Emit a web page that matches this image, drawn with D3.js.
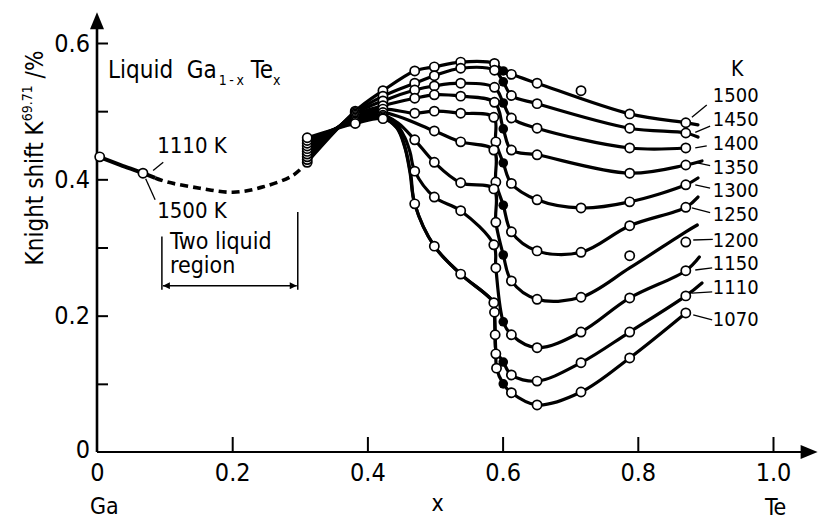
<!DOCTYPE html>
<html>
<head>
<meta charset="utf-8">
<script src="https://cdn.jsdelivr.net/npm/d3@7"></script>
<style>
  body { margin: 0; background: #fff; }
  svg text { font-family: "DejaVu Sans Condensed", "DejaVu Sans", sans-serif; font-stretch: condensed; fill: #000; }
</style>
</head>
<body>
<svg id="chart" width="818" height="521"></svg>
<script>
// isotherms, top to bottom on the Te-rich side
const temps = [1500, 1450, 1400, 1350, 1300, 1250, 1200, 1150, 1110, 1070];

// open circles lying on each isotherm, [x, K %]
const pts1500 = [[0.311,0.425],[0.382,0.500],[0.423,0.530],[0.470,0.559],[0.499,0.565],[0.538,0.572],[0.588,0.570],[0.613,0.554],[0.651,0.541],[0.788,0.496],[0.871,0.483]];
const pts1450 = [[0.311,0.429],[0.382,0.498],[0.423,0.522],[0.470,0.541],[0.499,0.552],[0.538,0.563],[0.588,0.560],[0.613,0.523],[0.651,0.511],[0.788,0.475],[0.871,0.468]];
const pts1400 = [[0.311,0.433],[0.382,0.496],[0.423,0.515],[0.470,0.531],[0.499,0.537],[0.538,0.541],[0.588,0.535],[0.613,0.490],[0.651,0.475],[0.788,0.446],[0.871,0.446]];
const pts1350 = [[0.311,0.437],[0.382,0.494],[0.423,0.508],[0.470,0.519],[0.499,0.524],[0.538,0.522],[0.588,0.513],[0.613,0.443],[0.651,0.436],[0.788,0.409],[0.871,0.421]];
const pts1300 = [[0.311,0.441],[0.382,0.492],[0.423,0.503],[0.470,0.497],[0.499,0.500],[0.538,0.497],[0.587,0.491],[0.590,0.455],[0.613,0.394],[0.651,0.370],[0.716,0.358],[0.788,0.367],[0.871,0.392]];
const pts1250 = [[0.311,0.445],[0.382,0.490],[0.423,0.498],[0.499,0.471],[0.538,0.455],[0.587,0.443],[0.590,0.396],[0.613,0.323],[0.651,0.295],[0.716,0.293],[0.788,0.332],[0.871,0.359]];
const pts1200 = [[0.311,0.449],[0.382,0.488],[0.423,0.494],[0.470,0.458],[0.499,0.425],[0.538,0.395],[0.587,0.386],[0.590,0.337],[0.613,0.251],[0.651,0.224],[0.716,0.227]];
const pts1150 = [[0.311,0.453],[0.382,0.486],[0.423,0.492],[0.470,0.412],[0.499,0.374],[0.538,0.354],[0.587,0.304],[0.590,0.270],[0.613,0.172],[0.651,0.153],[0.716,0.176],[0.788,0.226],[0.871,0.266]];
const pts1110 = [[0.311,0.457],[0.382,0.484],[0.423,0.490],[0.613,0.113],[0.651,0.104],[0.716,0.131],[0.788,0.176],[0.871,0.229]];
const pts1070 = [[0.311,0.461],[0.382,0.482],[0.423,0.489],[0.470,0.364],[0.499,0.302],[0.538,0.261],[0.587,0.219],[0.588,0.205],[0.589,0.172],[0.590,0.144],[0.591,0.123],[0.613,0.087],[0.651,0.069],[0.716,0.088],[0.788,0.138],[0.871,0.204]];

// extra points the drawn curve passes through (no marker)
const bend1500 = [];
const bend1450 = [];
const bend1400 = [];
const bend1350 = [];
const bend1300 = [];
const bend1250 = [];
const bend1200 = [[0.445,0.483],[0.788,0.270],[0.871,0.323]];
const bend1150 = [[0.440,0.485],[0.455,0.462],[0.463,0.440]];
const bend1110 = [[0.445,0.474],[0.456,0.446],[0.464,0.408],[0.470,0.364],[0.499,0.302],[0.538,0.261],[0.587,0.219],[0.588,0.205],[0.589,0.172],[0.590,0.150]];
const bend1070 = [[0.443,0.476],[0.455,0.448],[0.463,0.410]];

// filled dots near x = 0.6, one per isotherm
const filledX = 0.601;
const filledK = [0.559, 0.543, 0.512, 0.474, 0.424, 0.362, 0.289, 0.191, 0.132, 0.100];

// where each drawn curve stops past the last circle
const tails = [[0.889,0.480],[0.889,0.462],null,[0.895,0.427],[0.889,0.402],[0.889,0.374],[0.888,0.333],[0.891,0.286],[0.895,0.248],null];

// circles that sit off their curve
const offCurve = [[0.716,0.530],[0.788,0.288],[0.871,0.308]];

// Ga-rich side
const gaPts = [[0.004,0.433],[0.068,0.409]];
const gaSolid = [[0.000,0.434],[0.035,0.421],[0.068,0.409],[0.086,0.402]];
const gaDashed = [[0.086,0.402],[0.104,0.396],[0.152,0.387],[0.201,0.381],[0.246,0.389],[0.290,0.406],[0.311,0.425]];

// temperature labels at the right
const labelK = [0.524, 0.489, 0.454, 0.419, 0.384, 0.349, 0.312, 0.277, 0.243, 0.196];
const leaderFrom = [[0.880,0.491],[0.885,0.469],[0.885,0.446],[0.888,0.424],[0.885,0.392],[0.880,0.358],[0.882,0.311],[0.885,0.267],[0.880,0.233],[0.882,0.201]];
const leaderTo = [[0.902,0.509],[0.907,0.478],[0.902,0.449],[0.907,0.420],[0.907,0.387],[0.907,0.351],[0.911,0.312],[0.910,0.270],[0.910,0.235],[0.910,0.194]];

const xTicks = [0, 0.2, 0.4, 0.6, 0.8, 1.0];
const xTickLabels = ['0', '0.2', '0.4', '0.6', '0.8', '1.0'];
const yTicks = [0, 0.1, 0.2, 0.3, 0.4, 0.5, 0.6];
const yTickLabels = ['0', '', '0.2', '', '0.4', '', '0.6'];

const ptsBy = [pts1500, pts1450, pts1400, pts1350, pts1300, pts1250, pts1200, pts1150, pts1110, pts1070];
const bendBy = [bend1500, bend1450, bend1400, bend1350, bend1300, bend1250, bend1200, bend1150, bend1110, bend1070];

const isotherms = temps.map((t, i) => ({
  t,
  pts: ptsBy[i],
  line: [...ptsBy[i], ...bendBy[i], [filledX, filledK[i]], tails[i]]
    .filter(Boolean)
    .sort((a, b) => a[0] - b[0])
}));

const svg = d3.select('#chart');

const x = d3.scaleLinear().domain([0, 1]).range([97, 773]);
const y = d3.scaleLinear().domain([0, 0.6]).range([452, 43]);

const line = d3.line()
  .x(d => x(d[0]))
  .y(d => y(d[1]))
  .curve(d3.curveCatmullRom.alpha(0.5));

// axes
const leftAxis = d3.axisLeft(y)
  .tickValues(yTicks)
  .tickSizeInner(-11)
  .tickSizeOuter(0)
  .tickPadding(7)
  .tickFormat((d, i) => yTickLabels[i]);

const yAxisG = svg.append('g')
  .attr('transform', `translate(${x(0)},0)`)
  .call(leftAxis);

const bottomAxis = d3.axisBottom(x)
  .tickValues(xTicks)
  .tickSizeInner(-15)
  .tickSizeOuter(0)
  .tickPadding(9)
  .tickFormat((d, i) => xTickLabels[i]);

const xAxisG = svg.append('g')
  .attr('transform', `translate(0,${y(0)})`)
  .call(bottomAxis);

[yAxisG, xAxisG].forEach(g => {
  g.select('.domain').remove();
  g.attr('font-family', null).attr('font-size', null);
  g.selectAll('line').attr('stroke', '#000').attr('stroke-width', 2);
  g.selectAll('text').attr('font-size', 25);
});
yAxisG.selectAll('.tick').filter(d => d === 0).select('line').remove();
xAxisG.selectAll('.tick').filter(d => d === 0).select('line').remove();
xAxisG.selectAll('text').attr('dy', '0.78em');
yAxisG.selectAll('.tick').filter(d => d === 0).select('text').attr('dy', '0.2em');

// axis lines with arrow heads
const yTop = 0.645;
const xEnd = 1.066;
svg.append('line')
  .attr('x1', x(0)).attr('y1', y(0))
  .attr('x2', x(0)).attr('y2', y(yTop) + 14)
  .attr('stroke', '#000').attr('stroke-width', 2.6);
svg.append('path')
  .attr('d', `M${x(0)},${y(yTop)} L${x(0) - 7},${y(yTop) + 17} L${x(0) + 7},${y(yTop) + 17} Z`)
  .attr('fill', '#000');
svg.append('line')
  .attr('x1', x(0)).attr('y1', y(0))
  .attr('x2', x(xEnd) - 14).attr('y2', y(0))
  .attr('stroke', '#000').attr('stroke-width', 2.2);
svg.append('path')
  .attr('d', `M${x(xEnd)},${y(0)} L${x(xEnd) - 17},${y(0) - 7} L${x(xEnd) - 17},${y(0) + 7} Z`)
  .attr('fill', '#000');

// Ga-rich branch
svg.append('path')
  .attr('d', line(gaSolid))
  .attr('fill', 'none').attr('stroke', '#000').attr('stroke-width', 4);
svg.append('path')
  .attr('d', line(gaDashed))
  .attr('fill', 'none').attr('stroke', '#000').attr('stroke-width', 3.6)
  .attr('stroke-dasharray', '8,5');

// isotherm curves
svg.append('g')
  .selectAll('path')
  .data(isotherms)
  .enter()
  .append('path')
  .attr('d', d => line(d.line))
  .attr('fill', 'none')
  .attr('stroke', '#000')
  .attr('stroke-width', 3.2)
  .attr('stroke-linecap', 'round');

// filled dots
svg.append('g')
  .selectAll('circle')
  .data(filledK)
  .enter()
  .append('circle')
  .attr('cx', x(filledX))
  .attr('cy', d => y(d))
  .attr('r', 4.8)
  .attr('fill', '#000');

// open circles
const allPts = isotherms.flatMap(d => d.pts).concat(offCurve, gaPts);
svg.append('g')
  .selectAll('circle')
  .data(allPts)
  .enter()
  .append('circle')
  .attr('cx', d => x(d[0]))
  .attr('cy', d => y(d[1]))
  .attr('r', 4.6)
  .attr('fill', '#fff')
  .attr('stroke', '#000')
  .attr('stroke-width', 1.7);

// right labels
const labels = svg.append('g');
labels.selectAll('line')
  .data(temps)
  .enter()
  .append('line')
  .attr('x1', (d, i) => x(leaderFrom[i][0]))
  .attr('y1', (d, i) => y(leaderFrom[i][1]))
  .attr('x2', (d, i) => x(leaderTo[i][0]))
  .attr('y2', (d, i) => y(leaderTo[i][1]))
  .attr('stroke', '#000')
  .attr('stroke-width', 1.3);
labels.selectAll('text')
  .data(temps)
  .enter()
  .append('text')
  .text(d => d)
  .attr('x', x(0.911))
  .attr('y', (d, i) => y(labelK[i]))
  .attr('dy', '0.36em')
  .attr('font-size', 20);
svg.append('text')
  .text('K')
  .attr('x', x(0.947))
  .attr('y', y(0.563))
  .attr('dy', '0.36em')
  .attr('text-anchor', 'middle')
  .attr('font-size', 21);

// Ga-side annotations
svg.append('text').text('1110 K')
  .attr('x', x(0.089)).attr('y', y(0.438)).attr('font-size', 22);
svg.append('line')
  .attr('x1', x(0.098)).attr('y1', y(0.425))
  .attr('x2', x(0.083)).attr('y2', y(0.413))
  .attr('stroke', '#000').attr('stroke-width', 1.3);
svg.append('text').text('1500 K')
  .attr('x', x(0.089)).attr('y', y(0.344)).attr('font-size', 22);
svg.append('line')
  .attr('x1', x(0.072)).attr('y1', y(0.401))
  .attr('x2', x(0.086)).attr('y2', y(0.370))
  .attr('stroke', '#000').attr('stroke-width', 1.3);

// two liquid region bracket
const regionL = 0.096;
const regionR = 0.297;
svg.append('defs').append('marker')
  .attr('id', 'arr')
  .attr('viewBox', '0 0 10 10')
  .attr('refX', 10).attr('refY', 5)
  .attr('markerWidth', 12).attr('markerHeight', 7)
  .attr('markerUnits', 'userSpaceOnUse')
  .attr('orient', 'auto-start-reverse')
  .append('path').attr('d', 'M0,0 L10,5 L0,10 Z').attr('fill', '#000');
svg.append('line')
  .attr('x1', x(regionL) + 1).attr('y1', y(0.244))
  .attr('x2', x(regionR) - 1).attr('y2', y(0.244))
  .attr('stroke', '#000').attr('stroke-width', 1.5)
  .attr('marker-start', 'url(#arr)').attr('marker-end', 'url(#arr)');
svg.append('line')
  .attr('x1', x(regionL)).attr('y1', y(0.316))
  .attr('x2', x(regionL)).attr('y2', y(0.238))
  .attr('stroke', '#000').attr('stroke-width', 1.5);
svg.append('line')
  .attr('x1', x(regionR)).attr('y1', y(0.352))
  .attr('x2', x(regionR)).attr('y2', y(0.238))
  .attr('stroke', '#000').attr('stroke-width', 1.5);
svg.append('text').text('Two liquid')
  .attr('x', x(0.108)).attr('y', y(0.298)).attr('font-size', 23);
svg.append('text').text('region')
  .attr('x', x(0.108)).attr('y', y(0.262)).attr('font-size', 23);

// title inside the frame
const title = svg.append('text')
  .attr('x', 108).attr('y', 78).attr('font-size', 24);
title.append('tspan').text('Liquid\u00a0\u00a0Ga');
title.append('tspan').text('1\u2009-\u2009x').attr('font-size', 14).attr('dx', 2).attr('dy', 7);
title.append('tspan').text('\u00a0Te').attr('dy', -7);
title.append('tspan').text('x').attr('font-size', 14).attr('dy', 7);

// y axis label
const yLabel = svg.append('text')
  .attr('transform', 'translate(43,158) rotate(-90)')
  .attr('text-anchor', 'middle')
  .attr('font-size', 24);
yLabel.append('tspan').text('Knight shift K');
yLabel.append('tspan').text('69.71').attr('font-size', 14).attr('dy', -11);
yLabel.append('tspan').text('\u00a0/%').attr('dy', 11);

// x axis captions
svg.append('text').text('Ga').attr('x', x(0) - 7).attr('y', 514).attr('font-size', 23);
svg.append('text').text('x').attr('x', x(0.495)).attr('y', 511).attr('font-size', 23);
svg.append('text').text('Te').attr('x', x(0.988)).attr('y', 515).attr('font-size', 23);
</script>
</body>
</html>
